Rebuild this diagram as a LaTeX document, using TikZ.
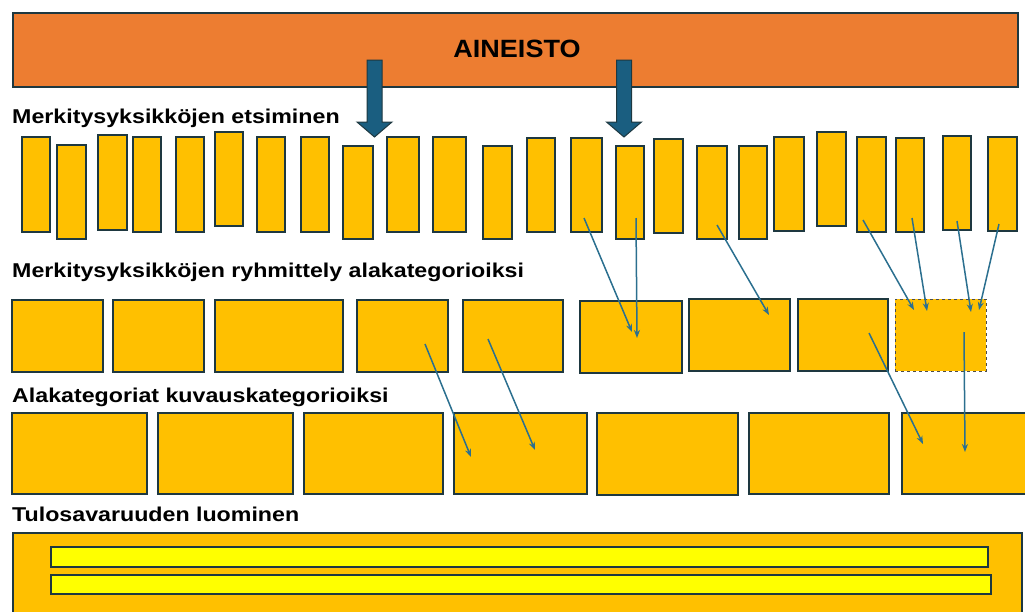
\documentclass[tikz,border=0pt]{standalone}
\usepackage{fontspec}
\setmainfont{Liberation Sans}
\newfontfamily\levea[FakeStretch=1.16]{Liberation Sans}
\newfontfamily\otsfont[FakeStretch=1.08]{Liberation Sans}
\usetikzlibrary{fit,arrows.meta}
\definecolor{aineisto}{HTML}{ED7D31}
\definecolor{kulta}{HTML}{FFC000}
\definecolor{keltainen}{HTML}{FFFF00}
\definecolor{reuna}{HTML}{1E3840}
\definecolor{sininen}{HTML}{1A5E80}
\definecolor{nuoli}{HTML}{2B6F8F}

\begin{document}
\begin{tikzpicture}[x=1pt,y=-1pt,line join=miter,
	laatikko/.style={draw=reuna,line width=2pt,fill=kulta,inner sep=0pt},
	otsikko/.style={font=\levea\bfseries\fontsize{20}{24}\selectfont,inner sep=0pt,anchor=base west},
	isonuoli/.style={draw=reuna,line width=1pt,fill=sininen},
	virta/.style={draw=nuoli,line width=1.5pt,-{Stealth[length=8pt,width=6pt]}}]
	\clip (0,0) rectangle (1025,611);
	% aineisto
	\node[laatikko,fill=aineisto,fit={(13,13) (1018,87)}] (aineisto) {};
	\node[font=\otsfont\bfseries\fontsize{25}{30}\selectfont,inner sep=0pt,anchor=base] (nimi) at (517,57) {AINEISTO};
	% otsikot
	\node[otsikko] (v1) at (12,123) {Merkitysyksikköjen etsiminen};
	\node[otsikko] (v2) at (12,277) {Merkitysyksikköjen ryhmittely alakategorioiksi};
	\node[otsikko] (v3) at (12,402) {Alakategoriat kuvauskategorioiksi};
	\node[otsikko] (v4) at (12,521) {Tulosavaruuden luominen};
	% merkitysyksikot
	\foreach \xa/\ya/\xb/\yb [count=\i] in {22/137/50/232, 57/145/86/239, 98/135/127/230, 133/137/161/232,
		176/137/204/232, 215/132/243/226, 257/137/285/232, 301/137/329/232, 343/146/373/239,
		387/137/419/232, 433/137/466/232, 483/146/512/239, 527/138/555/232, 571/138/602/232,
		616/146/644/239, 654/139/683/233, 697/146/727/239, 739/146/767/239, 774/137/804/231,
		817/132/846/226, 857/137/886/232, 896/138/924/232, 943/136/971/230, 988/137/1017/231}
		\node[laatikko,fit={(\xa,\ya) (\xb,\yb)}] (u\i) {};
	% alakategoriat
	\foreach \xa/\ya/\xb/\yb [count=\i] in {12/300/103/372, 113/300/204/372, 215/300/343/372,
		357/300/448/372, 463/300/563/372, 580/301/682/373, 689/299/790/371, 798/299/888/371}
		\node[laatikko,fit={(\xa,\ya) (\xb,\yb)}] (g\i) {};
	\node[laatikko,draw=gray!60!black,line width=1pt,dashed,fit={(895,299) (986,371)}] (g9) {};
	% kuvauskategoriat
	\foreach \xa/\ya/\xb/\yb [count=\i] in {12/413/147/494, 158/413/293/494, 304/413/443/494,
		454/413/587/494, 597/413/738/495, 749/413/889/494, 902/413/1030/494}
		\node[laatikko,fit={(\xa,\ya) (\xb,\yb)}] (k\i) {};
	% tulosavaruus
	\node[laatikko,fit={(13,533) (1022,625)}] (tulos) {};
	\node[laatikko,fill=keltainen,fit={(51,547) (988,567)}] (t1) {};
	\node[laatikko,fill=keltainen,fit={(51,575) (991,594)}] (t2) {};
	% isot nuolet
	\foreach \x in {374.5,624}
		\draw[isonuoli] (\x-7.5,60) -- (\x+7.5,60) -- (\x+7.5,122) -- (\x+17.5,122)
			-- (\x,137) -- (\x-17.5,122) -- (\x-7.5,122) -- cycle;
	% nuolet
	\foreach \xa/\ya/\xb/\yb [count=\i] in {584/218/632/332, 636/218/637/338, 717/225/769/315,
		863/220/914/310, 912/218/927/311, 957/221/971/312, 999/224/979/310,
		425/344/471/457, 488/339/535/450, 869/333/923/444, 964/332/965/452} {
		\coordinate (alku\i) at (\xa,\ya);
		\coordinate (loppu\i) at (\xb,\yb);
		\draw[virta] (alku\i) -- (loppu\i);
	}
\end{tikzpicture}
\end{document}
